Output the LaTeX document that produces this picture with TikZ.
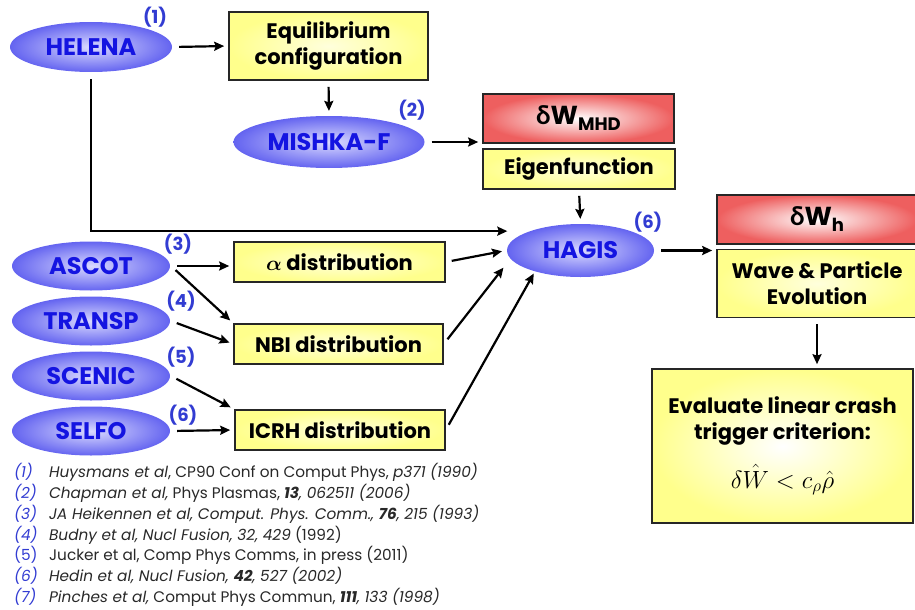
\documentclass[tikz,border=0pt]{standalone}
\usepackage{fontspec}
\setmainfont{Poppins}
\newfontfamily\greekfont{Lato}
\usepackage{tikz}
\usetikzlibrary{arrows,arrows.meta,positioning,shapes.geometric,calc}
\definecolor{progblue}{RGB}{100,100,240}
\definecolor{progpale}{RGB}{218,218,255}
\definecolor{progtext}{RGB}{20,20,225}
\definecolor{numblue}{RGB}{50,60,210}
\definecolor{resyellow}{RGB}{255,255,140}
\definecolor{resred}{RGB}{238,95,95}
\definecolor{reftext}{RGB}{40,40,40}
\newcommand{\dW}{{\greekfont\bfseries δ}W}
\newcommand{\refnum}[1]{\textcolor{numblue}{\itshape (#1)}}

\begin{document}
\begin{tikzpicture}[x=1pt, y=-1pt, ->, >={Stealth[length=10pt, width=9pt, inset=1.5pt]}, line width=2.2pt,
    shorten >=4pt, shorten <=6pt,
    prog/.style={ellipse, shading=radial, inner color=progpale, outer color=progblue, text=progtext,
      font=\fontsize{24}{28}\selectfont\bfseries, minimum width=158pt, minimum height=49pt, inner sep=0pt},
    res/.style={rectangle, draw=black!85, line width=1.6pt, shading=radial, inner color=resyellow!30!white,
      outer color=resyellow, font=\fontsize{21}{26}\selectfont\bfseries, align=center,
      minimum width=210pt, minimum height=40pt, inner sep=0pt},
    crit/.style={res, inner color=white, outer color=resred, font=\fontsize{26}{30}\selectfont\bfseries},
    num/.style={text=numblue, font=\fontsize{18}{20}\selectfont\bfseries, inner sep=0pt}]
    \useasboundingbox (0, 0) rectangle (915, 610);
    % codes and their results
    \node[prog, minimum width=162pt, minimum height=50pt] (helena) at (91, 47) {HELENA};
    \node[num] (n1) at (155, 17) {(1)};
    \node[res, minimum width=199pt, minimum height=68pt] (equil) at (328.5, 46) {Equilibrium\\configuration};
    \node[prog, minimum width=191pt, minimum height=52pt] (mishka) at (329, 142) {MISHKA-F};
    \node[num] (n2) at (412, 110) {(2)};
    \node[crit, minimum width=191pt, minimum height=49pt] (dwmhd) at (578.5, 118.5) {\dW\raisebox{-6pt}{\fontsize{18}{18}\selectfont MHD}};
    \node[res, minimum width=192pt] (eigen) at (579, 169) {Eigenfunction};
    \node[prog, minimum width=147pt, minimum height=53pt] (hagis) at (580.5, 250.5) {HAGIS};
    \node[num] (n6h) at (648, 222) {(6)};
    \node[crit, minimum width=200pt, minimum height=49pt] (dwh) at (817, 219.5) {\dW\raisebox{-6pt}{\fontsize{18}{18}\selectfont h}};
    \node[res, minimum width=200pt, minimum height=68pt] (wave) at (817, 283.5) {Wave \& Particle\\Evolution};
    \node[res, inner color=white, minimum width=261pt, minimum height=154pt] (crash) at (782.5, 446)
      {Evaluate linear crash\\trigger criterion:\\[18pt]{\fontsize{26}{30}\selectfont\mdseries $\delta\hat{W} < c_{\rho}\hat{\rho}$}};
    % fast particle sources
    \node[prog] (ascot) at (91, 266) {ASCOT};
    \node[num] (n3) at (178, 244) {(3)};
    \node[prog] (transp) at (91, 321) {TRANSP};
    \node[num] (n4) at (181, 301) {(4)};
    \node[prog] (scenic) at (91, 376) {SCENIC};
    \node[num] (n5) at (181, 357) {(5)};
    \node[prog] (selfo) at (91, 431) {SELFO};
    \node[num] (n6) at (183, 415) {(6)};
    \node[res, minimum width=211pt] (alpha) at (339.5, 262) {{\boldmath$\alpha$} distribution};
    \node[res, minimum width=209pt] (nbi) at (338.5, 344) {NBI distribution};
    \node[res] (icrh) at (340, 430) {ICRH distribution};
    % references
    \node[anchor=north west, inner sep=0pt, text=reftext, font=\fontsize{15.3}{20.8}\selectfont] (refs) at (13, 462) {%
      \begin{tabular}{@{}p{35pt}@{}l@{}}
        \refnum{1} & \textit{Huysmans et al}, CP90 Conf on Comput Phys, \textit{p371 (1990)}\\
        \refnum{2} & \textit{Chapman et al,} Phys Plasmas, \textit{\textbf{13}, 062511 (2006)}\\
        \refnum{3} & \textit{JA Heikennen et al, Comput. Phys. Comm., \textbf{76}, 215 (1993)}\\
        \refnum{4} & \textit{Budny et al, Nucl Fusion, 32, 429} (1992)\\
        \textcolor{numblue}{(5)} & Jucker et al, Comp Phys Comms, in press (2011)\\
        \refnum{6} & \textit{Hedin et al, Nucl Fusion, \textbf{42}, 527 (2002)}\\
        \refnum{7} & \textit{Pinches et al,} Comput Phys Commun, \textit{\textbf{111}, 133 (1998)}
      \end{tabular}};
    \path (helena.east) edge (equil.west);
    \path (equil.south) edge (mishka.north);
    \path (mishka.east) edge (mishka.east -| dwmhd.west);
    \path (eigen.south) edge (hagis.north);
    \draw[shorten >=20pt] (helena.south) |- (hagis.160);
    \path (alpha.east) edge (hagis.west);
    \path (nbi.east) edge ([yshift=-14pt]hagis.west);
    \path (icrh.east) edge ([xshift=8pt]hagis.south west);
    \path (hagis.east) edge (hagis.east -| wave.west);
    \path (wave.south) edge (wave.south |- crash.north);
    \path (ascot.east) edge (ascot.east -| alpha.west);
    \path (ascot.east) edge (nbi.north west);
    \path (transp.east) edge (nbi.west);
    \path (scenic.east) edge (icrh.north west);
    \path (selfo.east) edge (icrh.west);
\end{tikzpicture}
\end{document}
